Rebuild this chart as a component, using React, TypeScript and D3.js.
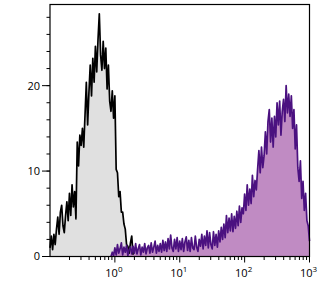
import React from "react";
import * as d3 from "d3";

const binWidth = 0.02;
const blackStart = -1.0;
const blackCounts = [
  1.0, 2.4, 0.8, 2.6, 1.4, 3.2,
  4.6, 2.6, 5.2,
  6.0, 3.6,
  2.8, 4.8,
  6.4, 4.2, 7.4, 4.8,
  8.4, 5.8, 7.6,
  4.4, 13.4,
  10.6, 14.2, 13.0,
  15.0, 12.8, 16.6,
  20.4, 15.4,
  19.2, 22.4,
  18.8, 23.2,
  20.4, 24.6, 21.6,
  25.4, 28.4,
  23.6, 21.8,
  25.2, 22.0,
  24.4, 19.6,
  22.4, 18.2,
  17.0, 19.4,
  16.2, 18.8,
  10.2,
  9.8, 7.0,
  7.6, 5.2,
  5.2, 3.8,
  3.2, 1.4,
  1.2, 0.4,
  1.6, 2.4,
  0.2,
];
const purpleStart = -0.06;
const purpleCounts = [
  0, 0.5, 0.1, 1.0, 0.2, 1.4, 0.4, 0.9, 1.6, 0.2, 1.1, 0.5, 1.3, 0.1, 0.8,
  1.1, 0.3, 1.2, 0.4, 1.5, 0.3, 0.9, 1.4, 0.2, 1.1, 0.5, 1.5, 0.3, 1.0, 1.3, 0.4, 1.6, 0.5, 1.1, 1.8, 0.4, 1.3, 0.6,
  1.5, 0.5, 1.9, 0.7, 1.7, 0.6, 2.1, 0.9, 2.5, 1.0, 0.6, 2.0, 0.9, 2.2, 0.6, 1.8,
  0.8, 2.1, 0.6, 1.7, 2.3, 0.7, 1.9, 0.6, 2.2, 1.0, 0.8, 2.4, 1.1, 0.6, 2.0,
  1.2, 2.6, 0.9, 2.4, 1.3, 3.0, 1.0, 2.8, 1.4, 0.9, 2.9, 1.3, 2.6, 1.1, 3.0,
  1.7, 3.4, 2.0, 3.8, 2.2, 4.8,
  2.8, 4.5, 3.0, 5.0, 2.9, 4.7,
  3.3, 5.3, 3.6, 5.9, 4.0, 5.7,
  5.0, 7.3, 5.4, 8.4, 6.0, 7.9,
  6.2, 9.5, 7.0, 8.9,
  7.8, 10.2, 12.4,
  9.8, 12.8, 10.4,
  11.8, 14.6, 12.0, 15.8,
  17.2, 13.4, 16.2,
  12.8, 16.4, 14.0, 18.0,
  15.4, 18.2, 14.2, 17.0,
  18.4, 15.8, 20.0,
  16.8, 19.0, 16.4,
  18.8, 15.0, 17.2,
  12.6, 15.4, 10.4,
  8.8, 11.2, 6.8,
  8.8, 5.4, 7.4,
  4.2, 3.6, 1.8,
];
const xDecades = [0, 1, 2, 3];
const yMajorTicks = [0, 10, 20];

const W = 324;
const H = 289;
const left = 50;
const right = 309.5;
const top = 4.5;
const bottom = 256.5;

export default function App() {
  const x = d3.scaleLinear().domain([-1, 3]).range([left, right]);
  const y = d3.scaleLinear().domain([0, 29.5]).range([bottom, top]);

  const toPts = (start: number, counts: number[]) =>
    counts.map((c, i) => [start + i * binWidth, c] as [number, number]);
  const blackPts = toPts(blackStart, blackCounts);
  const purplePts = toPts(purpleStart, purpleCounts);

  const line = d3
    .line<[number, number]>()
    .x((d) => x(d[0]))
    .y((d) => y(d[1]));
  const area = d3
    .area<[number, number]>()
    .x((d) => x(d[0]))
    .y0(y(0))
    .y1((d) => y(d[1]));

  const minorX: number[] = [];
  for (let e = -1; e < 3; e++) {
    for (let m = 2; m <= 9; m++) minorX.push(e + Math.log10(m));
  }
  const yMinor = d3.range(0, 30, 2);

  const font = "'Open Sans', 'DejaVu Sans', Arial, sans-serif";

  return (
    <svg width={W} height={H} style={{ position: "absolute", left: 0, top: 0 }}>
      <rect x={0} y={0} width={W} height={H} fill="#fff" />
      <path d={area(blackPts) || ""} fill="#e0e0e0" />
      <path d={area(purplePts) || ""} fill="#c08bc3" />
      <path d={line(blackPts) || ""} fill="none" stroke="#000" strokeWidth={1.7} strokeLinejoin="round" />
      <path d={line(purplePts) || ""} fill="none" stroke="#4b1180" strokeWidth={1.7} strokeLinejoin="round" />
      <rect x={left} y={top} width={right - left} height={bottom - top} fill="none" stroke="#000" strokeWidth={1.2} />
      {yMinor.map((v) => (
        <line key={"ym" + v} x1={left - 3.5} x2={left} y1={y(v)} y2={y(v)} stroke="#000" strokeWidth={1} />
      ))}
      {yMajorTicks.map((v) => (
        <g key={"y" + v}>
          <line x1={left - 8} x2={left} y1={y(v)} y2={y(v)} stroke="#000" strokeWidth={1} />
          <text x={left - 10} y={y(v)} dy="0.35em" textAnchor="end" fontSize={11} fontFamily={font} fill="#000">
            {v}
          </text>
        </g>
      ))}
      {minorX.map((v, i) => (
        <line key={"xm" + i} x1={x(v)} x2={x(v)} y1={bottom} y2={bottom + 3.5} stroke="#000" strokeWidth={1} />
      ))}
      {xDecades.map((e) => (
        <g key={"x" + e}>
          <line x1={x(e)} x2={x(e)} y1={bottom} y2={bottom + 6} stroke="#000" strokeWidth={1} />
          <text x={x(e) - 1} y={bottom + 20} textAnchor="middle" fontSize={11} fontFamily={font} fill="#000">
            10
            <tspan fontSize={8} dy={-5}>
              {e}
            </tspan>
          </text>
        </g>
      ))}
    </svg>
  );
}
